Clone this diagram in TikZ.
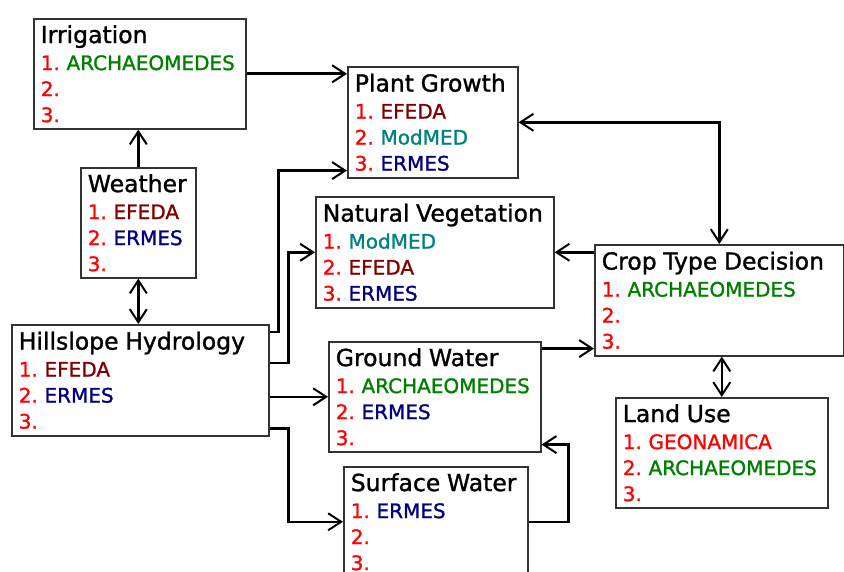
\documentclass[tikz,border=0pt]{standalone}
\usepackage{fontspec}
\setmainfont{DejaVu Sans}[FakeBold=1.2]
\usetikzlibrary{arrows.meta}
\definecolor{numred}{HTML}{FF0000}
\definecolor{archgreen}{HTML}{008000}
\definecolor{efedared}{HTML}{800000}
\definecolor{modteal}{HTML}{008080}
\definecolor{ermesblue}{HTML}{000080}
\definecolor{geored}{HTML}{FF0000}
\newcommand{\ttl}[1]{{\fontsize{23.5}{26}\selectfont #1}}
\newcommand{\nr}[1]{\textcolor{numred}{#1}}
\newcommand{\arch}{\textcolor{archgreen}{ARCHAEOMEDES}}
\newcommand{\efeda}{\textcolor{efedared}{EFEDA}}
\newcommand{\modmed}{\textcolor{modteal}{ModMED}}
\newcommand{\ermes}{\textcolor{ermesblue}{ERMES}}
\newcommand{\geon}{\textcolor{geored}{GEONAMICA}}
\tikzset{
>={Straight Barb[length=13pt,width=17pt,line width=2pt]},
box/.style={draw=black!80,line width=1.6pt,anchor=north west,align=left,
  inner xsep=7pt,inner ysep=3pt,font=\fontsize{20}{26}\selectfont},
freccia/.style={->,line width=2.6pt}}

\begin{document}
\begin{tikzpicture}[x=1pt,y=-1pt]
\useasboundingbox (0,0) rectangle (844,572);
\fill[white] (0,0) rectangle (844,572);

\node[box,text width=198pt,minimum height=110pt] (irr) at (33,18)
  {\ttl{Irrigation}\\[1pt] \nr{1.}~\arch\\ \nr{2.}\\ \nr{3.}};
\node[box,text width=156pt,minimum height=111pt] (plant) at (347,66)
  {\ttl{Plant~Growth}\\[1pt] \nr{1.}~\efeda\\ \nr{2.}~\modmed\\ \nr{3.}~\ermes};
\node[box,text width=101pt,minimum height=110pt] (weather) at (80,167)
  {\ttl{Weather}\\[1pt] \nr{1.}~\efeda\\ \nr{2.}~\ermes\\ \nr{3.}};
\node[box,text width=224pt,minimum height=111pt] (natveg) at (315,196)
  {\ttl{Natural~Vegetation}\\[1pt] \nr{1.}~\modmed\\ \nr{2.}~\efeda\\ \nr{3.}~\ermes};
\node[box,text width=235pt,minimum height=111pt] (crop) at (594,244)
  {\ttl{Crop~Type~Decision}\\[1pt] \nr{1.}~\arch\\ \nr{2.}\\ \nr{3.}};
\node[box,text width=243pt,minimum height=111pt] (hill) at (11,324)
  {\ttl{Hillslope~Hydrology}\\[1pt] \nr{1.}~\efeda\\ \nr{2.}~\ermes\\ \nr{3.}};
\node[box,text width=198pt,minimum height=110pt] (ground) at (328,341)
  {\ttl{Ground~Water}\\[1pt] \nr{1.}~\arch\\ \nr{2.}~\ermes\\ \nr{3.}};
\node[box,text width=198pt,minimum height=110pt] (land) at (615,397)
  {\ttl{Land~Use}\\[1pt] \nr{1.}~\geon\\ \nr{2.}~\arch\\ \nr{3.}};
\node[box,text width=170pt,minimum height=110pt] (surf) at (343,466)
  {\ttl{Surface~Water}\\[1pt] \nr{1.}~\ermes\\ \nr{2.}\\ \nr{3.}};

% connector ends
\coordinate (hp) at ([yshift=-8pt]hill.north east);
\coordinate (hn) at ([yshift=-39pt]hill.north east);
\coordinate (hs) at ([yshift=8pt]hill.south east);
\coordinate (pin) at ([yshift=8pt]plant.south west);
\coordinate (cin) at ([yshift=8pt]crop.south west);
\coordinate (gin) at ([yshift=8pt]ground.south east);

\path[freccia]
	(irr.east) edge (plant.west |- irr.east)
	(weather.north) edge (weather.north |- irr.south)
	(crop.west |- natveg.east) edge (natveg.east)
	(hill.east |- ground.west) edge (ground.west)
	(ground.east |- cin) edge (cin);
\path[freccia,<->]
	(weather.south) edge (weather.south |- hill.north)
	(land.north) edge (land.north |- crop.south);

\draw[freccia,<->] (plant.east) -| (crop.north);
\draw[freccia] (hp) -- ++(9,0) |- (pin);
\draw[freccia] (hn) -- ++(19,0) |- (natveg.west);
\draw[freccia] (hs) -- ++(19,0) |- (surf.west);
\draw[freccia] (surf.east) -- ++(40,0) |- (gin);
\end{tikzpicture}
\end{document}
